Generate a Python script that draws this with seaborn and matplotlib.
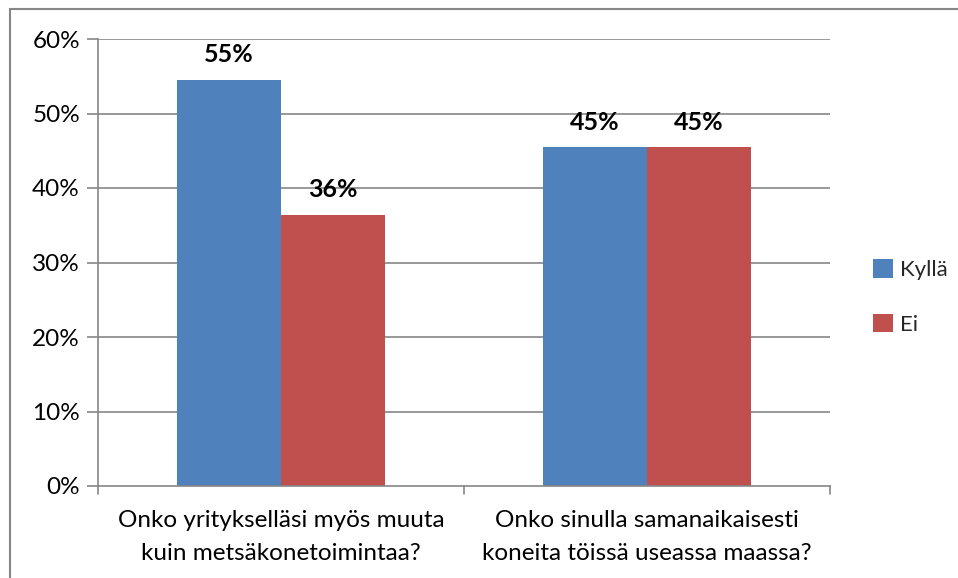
import matplotlib
matplotlib.use("Agg")
import matplotlib.pyplot as plt
import seaborn as sns
import pandas as pd
from matplotlib.lines import Line2D
from matplotlib.patches import Patch

categories = ["Onko yritykselläsi myös muuta\nkuin metsäkonetoimintaa?",
              "Onko sinulla samanaikaisesti\nkoneita töissä useassa maassa?"]
series_names = ["Kyllä", "Ei"]
kylla = [54.55, 45.45]
ei = [36.36, 45.45]
yticks = [0, 10, 20, 30, 40, 50, 60]
colors = ["#4F81BD", "#C0504D"]

sns.set_theme(style="white")
plt.rcParams['font.family'] = ['Lato', 'DejaVu Sans']

df = pd.DataFrame({
    "cat": categories * 2,
    "series": [series_names[0]] * 2 + [series_names[1]] * 2,
    "val": kylla + ei,
})

fig = plt.figure(figsize=(9.58, 5.78), dpi=100)
ax = fig.add_axes([98/958, 1-486/578, (830-98)/958, (486-39)/578])

sns.barplot(data=df, x="cat", y="val", hue="series", palette=colors,
            width=0.57, gap=0, ax=ax, legend=False, saturation=1,
            edgecolor="none")

ax.set_ylim(0, 60)
ax.set_xlim(-0.5, 1.5)
ax.set_yticks(yticks)
ax.set_yticklabels([f"{v}%" for v in yticks], fontsize=17.5, color="black")
ax.set_xticks([0, 1])
ax.set_xticklabels(categories, fontsize=17.5, color="black", linespacing=1.7)
ax.tick_params(axis="x", length=0, pad=17)
ax.tick_params(axis="y", length=8, color="#868686", width=1.2, pad=5, left=True)
for v in yticks[1:]:
    ax.axhline(v, color="#868686", lw=1.2, zorder=0)
for x in [-0.5, 0.5, 1.5]:
    ax.plot([x, x], [0, -1.1], color="#868686", lw=1.2, clip_on=False)

for s in ["top", "right"]:
    ax.spines[s].set_visible(False)
for s in ["left", "bottom"]:
    ax.spines[s].set_color("#868686")
    ax.spines[s].set_linewidth(1.2)
ax.set_xlabel("")
ax.set_ylabel("")

for cont in ax.containers:
    ax.bar_label(cont, labels=[f"{round(b.get_height()):.0f}%" for b in cont],
                 padding=10, fontsize=18, fontweight="bold", color="black")

handles = [Patch(facecolor=c, edgecolor="none") for c in colors]
fig.legend(handles, series_names, loc="center left", bbox_to_anchor=(873/958, 1-297/578),
           frameon=False, fontsize=16, handlelength=0.9, handleheight=0.9,
           handletextpad=0.3, labelspacing=1.5, borderpad=0, borderaxespad=0)

# outer chart border
fig.add_artist(Line2D([10/958, 10/958], [0, 1-9/578], color="#868686", lw=1.5))
fig.add_artist(Line2D([10/958, 1], [1-9/578, 1-9/578], color="#868686", lw=1.5))

fig.savefig("out.png", dpi=100)
